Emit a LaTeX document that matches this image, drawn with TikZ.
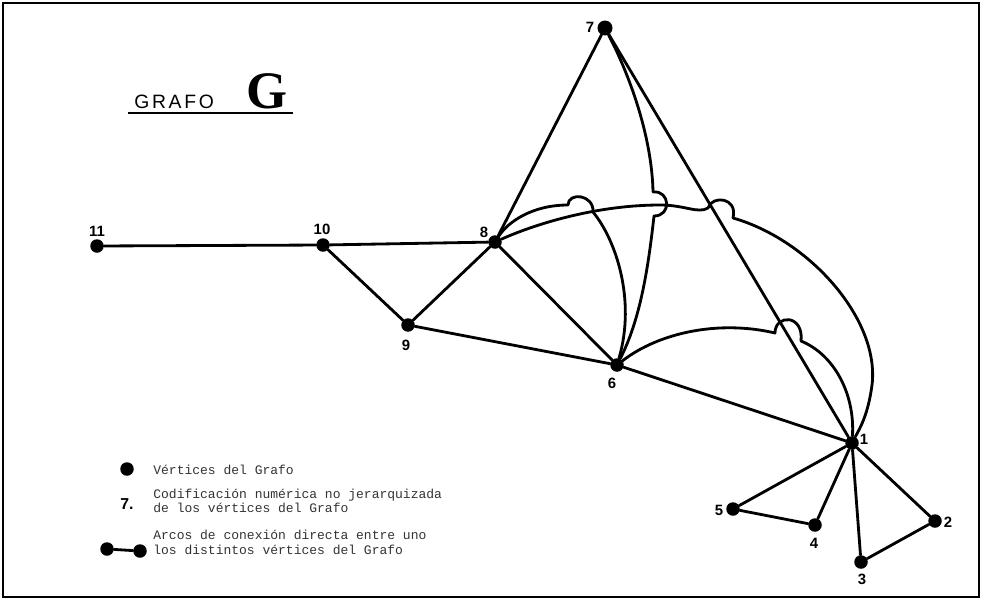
\documentclass[tikz,border=0pt]{standalone}
\usepackage{fontspec}
\setmainfont{Liberation Sans}
\newfontfamily\gfont{Liberation Serif}
\newfontfamily\legfont{Liberation Mono}
\newfontfamily\titfont[LetterSpace=14]{Liberation Sans}
\usetikzlibrary{positioning}

\begin{document}
\begin{tikzpicture}[x=0.02cm, y=-0.02cm,
    vert/.style={circle, fill=black, inner sep=0pt, minimum size=0.27cm},
    num/.style={font=\bfseries\fontsize{8.5}{8.5}\selectfont, inner sep=0pt},
    legtxt/.style={font=\legfont\fontsize{7.4}{7.4}\selectfont, anchor=west, inner sep=0pt, black!80},
    link/.style={line width=1.6pt, line cap=round, line join=round}]
    \useasboundingbox (0,0) rectangle (983,602);

    % Frame
    \draw[line width=1pt] (3,3) rectangle (979,597);

    % Title
    \node[font=\titfont\fontsize{11}{11}\selectfont, anchor=base west, inner sep=0pt] (tgrafo) at (134,108) {GRAFO};
    \node[font=\gfont\bfseries\fontsize{30}{30}\selectfont, anchor=base, inner sep=0pt] (tg) at (267,108) {G};
    \draw[line width=1.4pt] (128,113) -- (293,113);

    % Vertices
    \node[vert, minimum size=0.3cm] (v7) at (605,28) {};
    \node[vert] (v8) at (495,242) {};
    \node[vert] (v10) at (323,245) {};
    \node[vert] (v11) at (97,246) {};
    \node[vert] (v9) at (408,325) {};
    \node[vert] (v6) at (617,365) {};
    \node[vert] (v1) at (852,443) {};
    \node[vert] (v5) at (733,509) {};
    \node[vert] (v4) at (815,525) {};
    \node[vert] (v2) at (935,521) {};
    \node[vert] (v3) at (861,562) {};

    % Numbers
    \node[num] (n7) at (590,27) {7};
    \node[num] (n8) at (484,232) {8};
    \node[num] (n10) at (322,229) {10};
    \node[num] (n11) at (97,231) {11};
    \node[num] (n9) at (406,345) {9};
    \node[num] (n6) at (612,383) {6};
    \node[num] (n1) at (864,439) {1};
    \node[num] (n5) at (719,510) {5};
    \node[num] (n4) at (814,543) {4};
    \node[num] (n2) at (948,522) {2};
    \node[num] (n3) at (862,579) {3};

    % Straight arcs
    \draw[link] (v11) -- (v10);
    \draw[link] (v10) -- (v8);
    \draw[link] (v10) -- (v9);
    \draw[link] (v9) -- (v8);
    \draw[link] (v9) -- (v6);
    \draw[link] (v8) -- (v6);
    \draw[link] (v8) -- (v7);
    \draw[link] (v7) -- (v1);
    \draw[link] (v6) -- (v1);
    \draw[link] (v1) -- (v5);
    \draw[link] (v5) -- (v4);
    \draw[link] (v4) -- (v1);
    \draw[link] (v1) -- (v3);
    \draw[link] (v3) -- (v2);
    \draw[link] (v2) -- (v1);

    % Curved arcs (with hops)
    \draw[link] (v8) .. controls (508,222) and (532,205) .. (568,205)
        .. controls (568,192) and (594,194) .. (593,212)
        .. controls (616,240) and (636,300) .. (v6);
    \draw[link] (v8) .. controls (540,222) and (600,205) .. (660,205)
        .. controls (685,205) and (698,214) .. (708,208)
        .. controls (712,195) and (738,197) .. (733,218)
        .. controls (810,240) and (880,320) .. (872,385)
        .. controls (868,415) and (860,428) .. (v1);
    \draw[link] (v7) .. controls (632,80) and (652,140) .. (653,192)
        .. controls (670,190) and (672,216) .. (654,216)
        .. controls (648,270) and (640,320) .. (v6);
    \draw[link] (v6) .. controls (660,332) and (720,320) .. (775,333)
        .. controls (775,314) and (804,314) .. (801,341)
        .. controls (835,355) and (855,395) .. (v1);

    % Legend
    \node[vert] (ldot) at (127,469) {};
    \node[legtxt] (lt1) at (153,470) {Vértices del Grafo};
    \node[font=\bfseries\fontsize{9}{9}\selectfont, inner sep=0pt] (lnum) at (127,504) {7.};
    \node[legtxt] (lt2) at (153,495) {Codificación numérica no jerarquizada};
    \node[legtxt] (lt3) at (153,508) {de los vértices del Grafo};
    \node[vert] (lda) at (107,549) {};
    \node[vert] (ldb) at (140,551) {};
    \draw[link] (lda) -- (ldb);
    \node[legtxt] (lt4) at (153,535) {Arcos de conexión directa entre uno};
    \node[legtxt] (lt5) at (153,550) {los distintos vértices del Grafo};
\end{tikzpicture}
\end{document}
